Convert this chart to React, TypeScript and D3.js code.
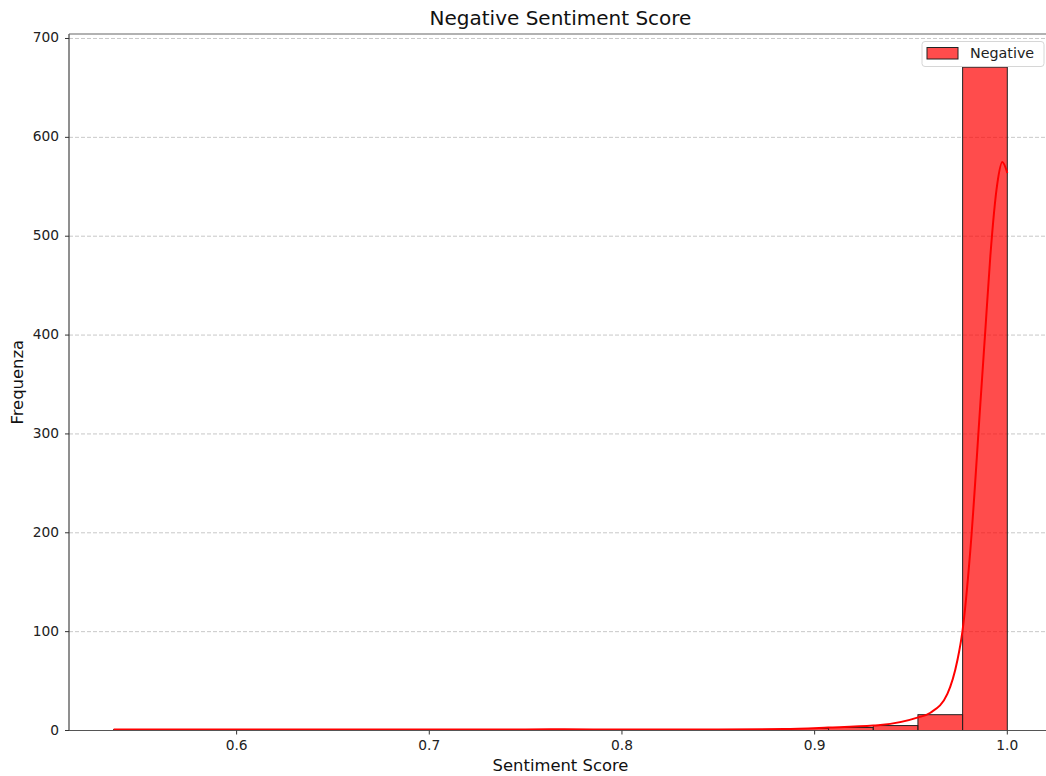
import React from "react";
import * as d3 from "d3";

// Histogram of negative sentiment scores (20 equal-width bins) with a KDE overlay
const binStart = 0.5362;
const binEnd = 1.0;
const binCounts = [1, 1, 1, 1, 0, 1, 0, 1, 1, 1, 1, 0, 1, 1, 1, 2, 3, 5, 16, 671];

// Kernel density curve, scaled to counts
const kdeX = [
  0.5362, 0.56, 0.6, 0.65, 0.7, 0.75, 0.77, 0.8, 0.85, 0.884, 0.907, 0.9305, 0.9341, 0.9533,
  0.9601, 0.9689, 0.9741, 0.9767, 0.9808, 0.986, 0.9886, 0.9912, 0.9948, 0.9974, 1.0,
];
const kdeY = [
  1.0, 1.1, 1.0, 0.9, 0.9, 1.0, 1.2, 0.9, 1.0, 1.5, 3, 5, 5.5, 13, 18, 37, 71, 100, 182, 330, 405,
  480, 553, 575, 564,
];

const xTicks = [0.6, 0.7, 0.8, 0.9, 1.0];
const yTicks = [0, 100, 200, 300, 400, 500, 600, 700];

const W = 1046;
const H = 776;
const font = "DejaVu Sans, sans-serif";

export default function App() {
  const x = d3.scaleLinear().domain([0.513, 1.0232]).range([69, 1052]);
  const yMax = d3.max(binCounts)! * 1.05;
  const y = d3.scaleLinear().domain([0, yMax]).range([730.5, 34]);

  const bw = (binEnd - binStart) / binCounts.length;
  const bins = binCounts.map((c, i) => ({
    x0: binStart + i * bw,
    x1: binStart + (i + 1) * bw,
    c,
  }));

  const line = d3
    .line<number>()
    .x((_, i) => x(kdeX[i]))
    .y((d) => y(d))
    .curve(d3.curveMonotoneX);

  const left = x.range()[0];
  const right = x.range()[1];
  const top = y.range()[1];
  const bottom = y.range()[0];

  return (
    <svg
      width={W}
      height={H}
      style={{ position: "absolute", left: 0, top: 0, background: "#fff" }}
      fontFamily={font}
    >
      <defs>
        <clipPath id="plotArea">
          <rect x={left} y={top} width={right - left} height={bottom - top} />
        </clipPath>
      </defs>

      {/* horizontal grid */}
      {yTicks
        .filter((t) => t > 0)
        .map((t) => (
          <line
            key={t}
            x1={left}
            x2={right}
            y1={y(t)}
            y2={y(t)}
            stroke="#b0b0b0"
            strokeOpacity={0.7}
            strokeWidth={1}
            strokeDasharray="4,2"
          />
        ))}

      <g clipPath="url(#plotArea)">
        {bins
          .filter((b) => b.c > 0)
          .map((b, i) => (
            <rect
              key={i}
              x={x(b.x0)}
              y={y(b.c)}
              width={x(b.x1) - x(b.x0)}
              height={y(0) - y(b.c)}
              fill="#ff0000"
              fillOpacity={0.7}
              stroke="#222"
              strokeWidth={1}
            />
          ))}
        <path d={line(kdeY) || ""} fill="none" stroke="#ff0000" strokeWidth={2} />
      </g>

      {/* spines */}
      <line x1={left} x2={left} y1={top} y2={bottom} stroke="#333" strokeWidth={1.1} />
      <line x1={left} x2={right} y1={bottom} y2={bottom} stroke="#555" strokeWidth={1.1} />
      <line x1={left} x2={right} y1={top} y2={top} stroke="#666" strokeWidth={1.1} />

      {/* x ticks */}
      {xTicks.map((t) => (
        <g key={t}>
          <line x1={x(t)} x2={x(t)} y1={bottom} y2={bottom + 4} stroke="#333" />
          <text x={x(t)} y={746} textAnchor="middle" dominantBaseline="middle" fontSize={13.8} fill="#222">
            {t.toFixed(1)}
          </text>
        </g>
      ))}

      {/* y ticks */}
      {yTicks.map((t) => (
        <g key={t}>
          <line x1={left - 4} x2={left} y1={y(t)} y2={y(t)} stroke="#333" />
          <text x={left - 10} y={y(t)} textAnchor="end" dominantBaseline="middle" fontSize={13.8} fill="#222">
            {t}
          </text>
        </g>
      ))}

      {/* titles */}
      <text x={(left + right) / 2} y={19} textAnchor="middle" dominantBaseline="middle" fontSize={20} fill="#111">
        Negative Sentiment Score
      </text>
      <text x={(left + right) / 2} y={766} textAnchor="middle" dominantBaseline="middle" fontSize={16.4} fill="#111">
        Sentiment Score
      </text>
      <text
        transform={`translate(18, ${(top + bottom) / 2}) rotate(-90)`}
        textAnchor="middle"
        dominantBaseline="middle"
        fontSize={16.4}
        fill="#111"
      >
        Frequenza
      </text>

      {/* legend */}
      <g>
        <rect x={922} y={41.5} width={122} height={25} rx={3} fill="#fff" fillOpacity={0.85} stroke="#d6d6d6" />
        <rect x={927} y={47.5} width={31} height={11.5} fill="#ff0000" fillOpacity={0.7} stroke="#222" strokeWidth={1} />
        <text x={970} y={53.5} dominantBaseline="middle" fontSize={14.3} fill="#222">
          Negative
        </text>
      </g>
    </svg>
  );
}
